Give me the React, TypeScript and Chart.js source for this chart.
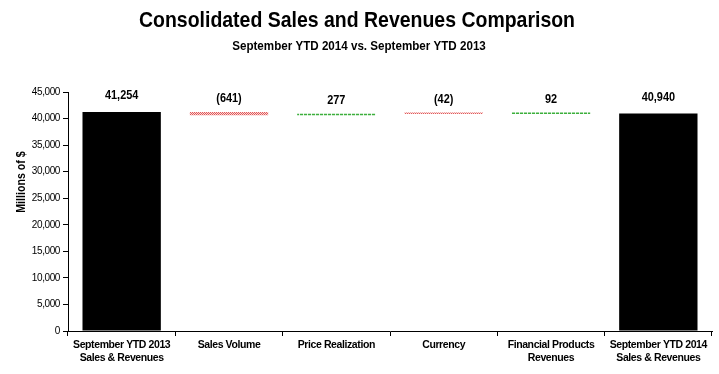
import React, { useEffect, useRef } from "react";
import { Chart, registerables } from "chart.js";

Chart.register(...registerables);

const categories: (string | string[])[] = [
  ["September YTD 2013", "Sales & Revenues"],
  "Sales Volume",
  "Price Realization",
  "Currency",
  ["Financial Products", "Revenues"],
  ["September YTD 2014", "Sales & Revenues"],
];
const startTotal = 41254;
const changes = [-641, 277, -42, 92];
const endTotal = 40940;
const yMin = 0;
const yMax = 45000;
const yStep = 5000;

const titleText = "Consolidated Sales and Revenues Comparison";
const subtitleText = "September YTD 2014 vs. September YTD 2013";
const yAxisTitle = "Millions of $";

const NARROW = '"Liberation Sans Narrow", "Arial Narrow", "Liberation Sans", Arial, sans-serif';

function makePattern(kind: "red" | "green"): CanvasPattern | string {
  const c = document.createElement("canvas");
  const ctx = c.getContext("2d");
  if (!ctx) return kind === "red" ? "#e07070" : "#40b040";
  if (kind === "red") {
    c.width = 2;
    c.height = 2;
    ctx.fillStyle = "rgb(225,90,90)";
    ctx.fillRect(0, 0, 1, 1);
    ctx.fillRect(1, 1, 1, 1);
    ctx.fillStyle = "rgb(250,215,215)";
    ctx.fillRect(1, 0, 1, 1);
    ctx.fillRect(0, 1, 1, 1);
  } else {
    c.width = 4;
    c.height = 1;
    ctx.fillStyle = "rgb(60,175,60)";
    ctx.fillRect(0, 0, 3, 1);
    ctx.fillStyle = "rgb(230,245,230)";
    ctx.fillRect(3, 0, 1, 1);
  }
  return ctx.createPattern(c, "repeat") || "#40b040";
}

function fmtNum(v: number): string {
  return Math.abs(v).toLocaleString("en-US");
}

function narrowText(ctx: CanvasRenderingContext2D, text: string, x: number, y: number, font: string, sx: number) {
  ctx.save();
  ctx.font = font;
  ctx.translate(x, y);
  ctx.scale(sx, 1);
  ctx.fillText(text, 0, 0);
  ctx.restore();
}

export default function App() {
  const ref = useRef<HTMLCanvasElement | null>(null);

  useEffect(() => {
    if (!ref.current) return;
    const red = makePattern("red");
    const green = makePattern("green");

    const bars: [number, number][] = [];
    const colors: (string | CanvasPattern)[] = [];
    const texts: string[] = [];
    const isTotal: boolean[] = [];
    bars.push([0, startTotal]);
    colors.push("#000000");
    texts.push(fmtNum(startTotal));
    isTotal.push(true);
    let running = startTotal;
    changes.forEach((d) => {
      const next = running + d;
      bars.push([running, next]);
      colors.push(d < 0 ? red : green);
      texts.push(d < 0 ? `(${fmtNum(d)})` : fmtNum(d));
      isTotal.push(false);
      running = next;
    });
    bars.push([0, endTotal]);
    colors.push("#000000");
    texts.push(fmtNum(endTotal));
    isTotal.push(true);

    const textPlugin = {
      id: "texts",
      beforeDraw(chart: any) {
        (chart.ctx as any).letterSpacing = "-0.4px";
      },
      afterDatasetsDraw(chart: any) {
        const ctx = chart.ctx;
        const meta = chart.getDatasetMeta(0);
        ctx.save();
        (ctx as any).letterSpacing = "0px";
        ctx.fillStyle = "#000";
        ctx.textAlign = "center";
        ctx.textBaseline = "middle";
        meta.data.forEach((el: any, i: number) => {
          const top = Math.min(el.y, el.base);
          const off = isTotal[i] ? 16 : 13;
          narrowText(ctx, texts[i], el.x, top - off, `bold 13px ${NARROW}`, 0.84);
        });
        ctx.restore();
        (ctx as any).letterSpacing = "-0.4px";
      },
      afterDraw(chart: any) {
        const ctx = chart.ctx;
        ctx.save();
        (ctx as any).letterSpacing = "0px";
        ctx.fillStyle = "#000";
        ctx.textAlign = "center";
        ctx.textBaseline = "middle";
        narrowText(ctx, titleText, 357, 21, `bold 22px ${NARROW}`, 0.885);
        narrowText(ctx, subtitleText, 359, 46, `bold 13.5px ${NARROW}`, 0.86);
        ctx.save();
        ctx.translate(21, 182);
        ctx.rotate(-Math.PI / 2);
        narrowText(ctx, yAxisTitle, 0, 0, `bold 13px ${NARROW}`, 0.82);
        ctx.restore();
        ctx.restore();
        (ctx as any).letterSpacing = "0px";
      },
    };

    const chart = new Chart(ref.current, {
      type: "bar",
      data: {
        labels: categories as any,
        datasets: [
          {
            data: bars as any,
            backgroundColor: colors as any,
            borderWidth: 0,
            barPercentage: 0.73,
            categoryPercentage: 1,
            minBarLength: 1.5,
          },
        ],
      },
      options: {
        animation: false,
        responsive: false,
        maintainAspectRatio: false,
        devicePixelRatio: 1,
        layout: { padding: { top: 92, right: 7, left: 0, bottom: 0 } },
        plugins: {
          legend: { display: false },
          tooltip: { enabled: false },
          title: { display: false },
        },
        scales: {
          x: {
            grid: {
              display: true,
              drawOnChartArea: false,
              drawTicks: true,
              tickLength: 5,
              color: "#000",
              offset: true,
            },
            border: { display: true, color: "#000", width: 1 },
            ticks: {
              color: "#000",
              font: { family: NARROW, size: 10.5, weight: "bold", lineHeight: 1.3 },
              padding: 2,
              maxRotation: 0,
              autoSkip: false,
            },
            afterFit(scale: any) {
              scale.height = 43;
            },
          },
          y: {
            min: yMin,
            max: yMax,
            grid: {
              display: true,
              drawOnChartArea: false,
              drawTicks: true,
              tickLength: 5,
              color: "#000",
            },
            border: { display: true, color: "#000", width: 1 },
            ticks: {
              stepSize: yStep,
              color: "#000",
              font: { family: NARROW, size: 10 },
              padding: 3,
              callback: (v: any) => Number(v).toLocaleString("en-US"),
            },
            afterFit(scale: any) {
              scale.width = 68;
            },
          },
        },
      },
      plugins: [textPlugin],
    });
    return () => chart.destroy();
  }, []);

  return (
    <div style={{ position: "fixed", left: 0, top: 0, width: 719, height: 374, background: "#fff" }}>
      <canvas ref={ref} width={719} height={374} style={{ width: 719, height: 374, display: "block" }} />
    </div>
  );
}
